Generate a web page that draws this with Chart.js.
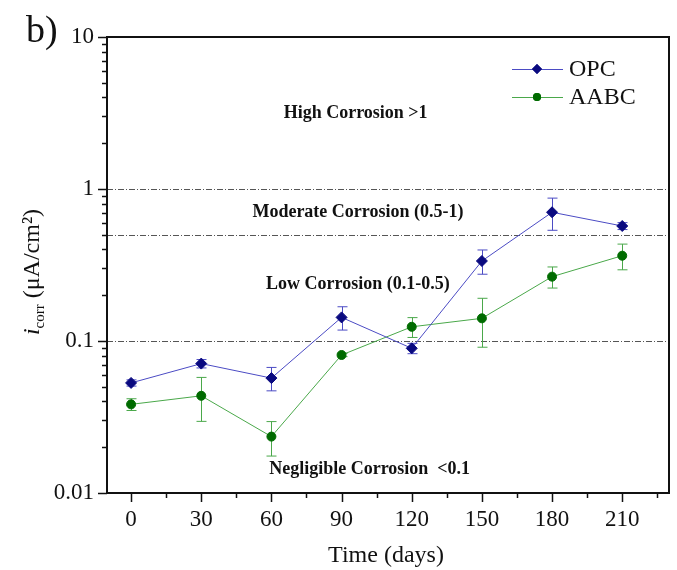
<!DOCTYPE html>
<html>
<head>
<meta charset="utf-8">
<script src="https://cdn.jsdelivr.net/npm/chart.js@4"></script>
<style>
  html, body { margin: 0; padding: 0; background: #fff; }
  #wrap { width: 677px; height: 570px; position: relative; }
</style>
</head>
<body>
<div id="wrap"><canvas id="chart"></canvas></div>
<script>
const days = [0, 30, 60, 90, 120, 150, 180, 210];
const opcValues = [0.053, 0.071, 0.057, 0.143, 0.0895, 0.336, 0.703, 0.571];
const opcErrors = [0.0025, 0.0045, 0.010, 0.025, 0.007, 0.061, 0.168, 0.030];
const aabcValues = [0.0383, 0.0436, 0.0235, 0.0809, 0.124, 0.141, 0.265, 0.364];
const aabcErrors = [0.0034, 0.014, 0.006, 0.002, 0.0185, 0.050, 0.042, 0.070];
const xTickLabels = [0, 30, 60, 90, 120, 150, 180, 210];
const yTickLabels = [0.01, 0.1, 1, 10];
const thresholds = [1, 0.5, 0.1];
const zoneLabels = ['High Corrosion >1', 'Moderate Corrosion (0.5-1)', 'Low Corrosion (0.1-0.5)', 'Negligible Corrosion  <0.1'];
const zoneAt = [[96, 3.16], [97, 0.706], [97, 0.237], [102, 0.0144]];

const serif = '"Liberation Serif", "Times New Roman", serif';
const opcLine = '#4b4bc4', opcMark = '#0a0a80';
const aabcLine = '#4aa84a', aabcMark = '#006b00';

function pts(vals) {
    return days.map((d, i) => ({ x: d, y: vals[i] }));
}

// error bars, frame, ticks, reference lines and texts
const extras = {
    id: 'extras',
    beforeDatasetsDraw(chart) {
        const { ctx, chartArea: a, scales: { x, y } } = chart;
        ctx.save();
        // threshold lines
        ctx.strokeStyle = '#555';
        ctx.lineWidth = 1;
        ctx.setLineDash([6, 2, 1, 2]);
        thresholds.forEach(t => {
            const py = Math.round(y.getPixelForValue(t)) + 0.5;
            ctx.beginPath();
            ctx.moveTo(a.left, py);
            ctx.lineTo(a.right, py);
            ctx.stroke();
        });
        ctx.setLineDash([]);
        // zone labels
        ctx.fillStyle = '#111';
        ctx.font = 'bold 18px ' + serif;
        ctx.textAlign = 'center';
        ctx.textBaseline = 'middle';
        zoneLabels.forEach((t, i) => {
            ctx.fillText(t, x.getPixelForValue(zoneAt[i][0]), y.getPixelForValue(zoneAt[i][1]));
        });
        // error bars
        const bars = [[opcValues, opcErrors, opcLine], [aabcValues, aabcErrors, aabcLine]];
        bars.forEach(([vals, errs, col]) => {
            ctx.strokeStyle = col;
            ctx.lineWidth = 1;
            vals.forEach((v, i) => {
                const px = Math.round(x.getPixelForValue(days[i])) + 0.5;
                const hi = y.getPixelForValue(v + errs[i]);
                const lo = y.getPixelForValue(v - errs[i]);
                ctx.beginPath();
                ctx.moveTo(px, hi); ctx.lineTo(px, lo);
                ctx.moveTo(px - 5, hi); ctx.lineTo(px + 5, hi);
                ctx.moveTo(px - 5, lo); ctx.lineTo(px + 5, lo);
                ctx.stroke();
            });
        });
        ctx.restore();
    },
    afterDraw(chart) {
        const { ctx, chartArea: a, scales: { x, y } } = chart;
        ctx.save();
        ctx.strokeStyle = '#111';
        // frame
        ctx.lineWidth = 2;
        ctx.strokeRect(a.left, a.top, a.right - a.left, a.bottom - a.top);
        // y ticks (major + minor, outward)
        ctx.lineWidth = 1.5;
        ctx.beginPath();
        for (let e = -2; e <= 1; e++) {
            for (let m = 1; m <= 9; m++) {
                const v = m * Math.pow(10, e);
                if (v > 10.0001) break;
                const py = Math.round(y.getPixelForValue(v)) + 0.5;
                const len = m === 1 ? 9 : 5;
                ctx.moveTo(a.left, py);
                ctx.lineTo(a.left - len, py);
            }
        }
        // x ticks
        for (let d = 0; d <= 225; d += 15) {
            const px = Math.round(x.getPixelForValue(d)) + 0.5;
            const len = d % 30 === 0 ? 9 : 5;
            ctx.moveTo(px, a.bottom);
            ctx.lineTo(px, a.bottom + len);
        }
        ctx.stroke();

        // legend
        const legend = [['OPC', opcLine, opcMark, 'rectRot', 69], ['AABC', aabcLine, aabcMark, 'circle', 97]];
        legend.forEach(([name, lc, mc, st, ly]) => {
            ctx.strokeStyle = lc;
            ctx.lineWidth = 1;
            ctx.beginPath();
            ctx.moveTo(512, ly + 0.5);
            ctx.lineTo(563, ly + 0.5);
            ctx.stroke();
            ctx.fillStyle = mc;
            Chart.helpers.drawPoint(ctx, { pointStyle: st, radius: st === 'circle' ? 4 : 5, borderWidth: 0 }, 537, ly);
            ctx.fill();
            ctx.fillStyle = '#111';
            ctx.font = '24px ' + serif;
            ctx.textAlign = 'left';
            ctx.textBaseline = 'middle';
            ctx.fillText(name, 569, ly + 1);
        });

        // panel letter
        ctx.fillStyle = '#111';
        ctx.font = '38px ' + serif;
        ctx.textAlign = 'left';
        ctx.textBaseline = 'alphabetic';
        ctx.fillText('b)', 26, 42);

        // x title
        ctx.font = '24px ' + serif;
        ctx.textAlign = 'center';
        ctx.fillText('Time (days)', (a.left + a.right) / 2 - 2, 562);

        // y title with subscript
        ctx.translate(39, 272);
        ctx.rotate(-Math.PI / 2);
        const p1 = 'i', p2 = 'corr', p3 = ' (\u03bcA/cm\u00b2)';
        ctx.font = 'italic 24px ' + serif;
        const w1 = ctx.measureText(p1).width;
        ctx.font = '15px ' + serif;
        const w2 = ctx.measureText(p2).width;
        ctx.font = '24px ' + serif;
        const w3 = ctx.measureText(p3).width;
        let sx = -(w1 + w2 + w3) / 2;
        ctx.textAlign = 'left';
        ctx.font = 'italic 24px ' + serif;
        ctx.fillText(p1, sx, 0);
        sx += w1;
        ctx.font = '15px ' + serif;
        ctx.fillText(p2, sx, 5);
        sx += w2;
        ctx.font = '24px ' + serif;
        ctx.fillText(p3, sx, 0);
        ctx.restore();
    }
};

const ctx = document.getElementById('chart').getContext('2d');
const chart = new Chart(ctx, {
    type: 'line',
    data: {
        datasets: [{
            label: 'OPC',
            data: pts(opcValues),
            borderColor: opcLine,
            backgroundColor: opcMark,
            pointBackgroundColor: opcMark,
            pointBorderColor: opcMark,
            pointStyle: 'rectRot',
            pointRadius: 5.5,
            borderWidth: 1,
            tension: 0
        }, {
            label: 'AABC',
            data: pts(aabcValues),
            borderColor: aabcLine,
            backgroundColor: aabcMark,
            pointBackgroundColor: aabcMark,
            pointBorderColor: aabcMark,
            pointStyle: 'circle',
            pointRadius: 4.5,
            borderWidth: 1,
            tension: 0
        }]
    },
    options: {
        responsive: true,
        maintainAspectRatio: false,
        animation: false,
        layout: { padding: { top: 37, right: 8, left: 0, bottom: 0 } },
        plugins: {
            legend: { display: false },
            tooltip: { enabled: false }
        },
        scales: {
            x: {
                type: 'linear',
                min: -10.3,
                max: 230,
                grid: { display: false, drawTicks: false },
                border: { display: false },
                afterBuildTicks: s => { s.ticks = xTickLabels.map(v => ({ value: v })); },
                afterFit: s => { s.height = 77; },
                ticks: {
                    padding: 13,
                    color: '#111',
                    font: { family: serif, size: 23 },
                    callback: v => String(v)
                }
            },
            y: {
                type: 'logarithmic',
                min: 0.01,
                max: 10,
                grid: { display: false, drawTicks: false },
                border: { display: false },
                afterBuildTicks: s => { s.ticks = yTickLabels.map(v => ({ value: v })); },
                afterFit: s => { s.width = 107; },
                ticks: {
                    padding: 13,
                    color: '#111',
                    font: { family: serif, size: 23 },
                    callback: v => String(v)
                }
            }
        }
    },
    plugins: [extras]
});
</script>
</body>
</html>
